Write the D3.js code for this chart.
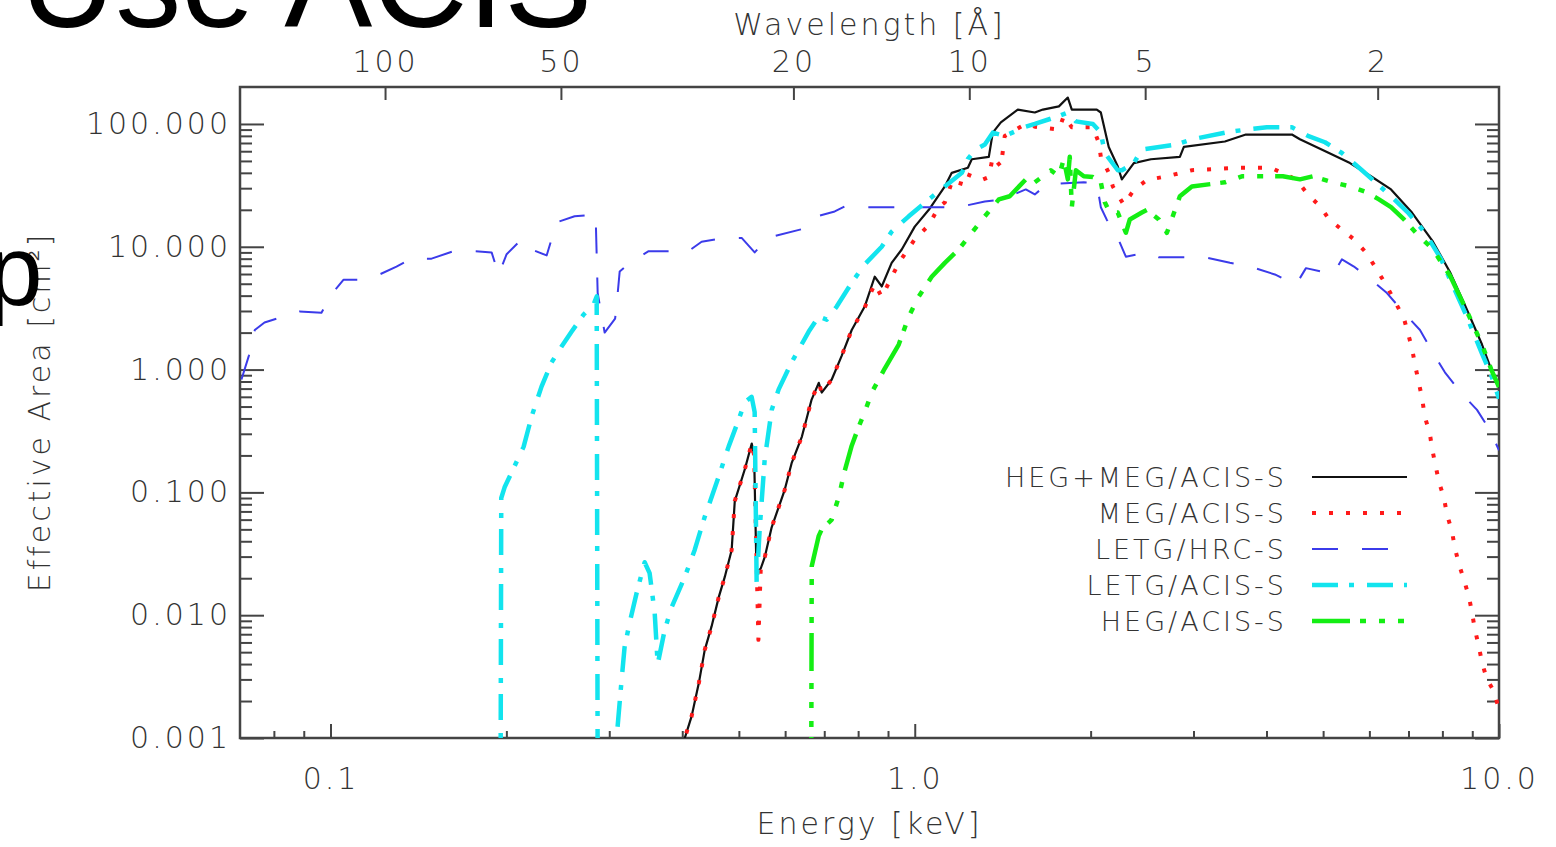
<!DOCTYPE html>
<html>
<head>
<meta charset="utf-8">
<script src="https://cdn.jsdelivr.net/npm/d3@7"></script>
<style>
  body { margin: 0; background: #fff; }
  svg text { font-family: "DejaVu Sans", sans-serif; }
</style>
</head>
<body>
<div id="chart"></div>
<script>
// ---- data: [energy keV, effective area cm^2] ----
var hegMegAcis = [
  [0.400,0.0008],[0.404,0.0010],[0.415,0.0015],[0.427,0.0028],[0.437,0.0052],[0.449,0.0081],
  [0.462,0.0141],[0.473,0.0205],[0.486,0.034],[0.492,0.085],[0.512,0.155],[0.526,0.25],
  [0.531,0.20],[0.536,0.022],[0.545,0.024],[0.554,0.03],[0.569,0.052],[0.585,0.076],
  [0.599,0.105],[0.616,0.175],[0.641,0.285],[0.666,0.57],[0.685,0.78],[0.693,0.65],
  [0.721,0.83],[0.750,1.3],[0.780,2.1],[0.821,3.26],[0.854,5.7],[0.878,4.75],[0.913,7.4],
  [0.950,9.5],[1.000,14.6],[1.057,20],[1.126,31],[1.157,40],[1.233,44],[1.252,51.6],
  [1.339,54],[1.360,85],[1.404,103],[1.501,131],[1.605,124],[1.657,131],[1.765,139],
  [1.828,164],[1.857,131],[2.049,131],[2.082,124],[2.148,65],[2.226,45],[2.262,35.4],
  [2.371,48],[2.536,51.6],[2.843,54],[2.888,65],[3.395,72],[3.688,82],[4.421,82],
  [4.563,75],[5.117,58],[5.558,48],[6.037,37.5],[6.534,29.3],[7.096,19],[7.709,11],
  [8.246,6.2],[8.779,3.2],[9.352,1.6],[9.70,1.0],[10.0,0.72]
];
var megAcis = [
  [0.400,0.0008],[0.404,0.0010],[0.415,0.0015],[0.427,0.0028],[0.437,0.0052],[0.449,0.0081],
  [0.462,0.0141],[0.473,0.0205],[0.486,0.034],[0.492,0.085],[0.512,0.155],[0.526,0.25],
  [0.531,0.20],[0.540,0.0063],[0.545,0.024],[0.554,0.03],[0.569,0.052],[0.585,0.076],
  [0.599,0.105],[0.616,0.175],[0.641,0.285],[0.666,0.57],[0.685,0.78],[0.693,0.65],
  [0.721,0.83],[0.750,1.3],[0.780,2.1],[0.821,3.2],[0.854,5.0],[0.878,3.9],[0.939,7.4],
  [1.000,11.5],[1.057,15],[1.099,21],[1.126,23],[1.157,33.5],[1.194,31],[1.213,40],
  [1.302,35],[1.339,37],[1.360,54],[1.404,45],[1.426,80],[1.549,100],[1.605,95],
  [1.765,90],[1.799,116],[1.857,94],[2.018,94],[2.066,70],[2.082,54],[2.148,40],
  [2.183,31],[2.279,22],[2.371,29],[2.497,35],[2.701,37.5],[2.981,42],[3.573,44],
  [4.07,44],[4.491,35.4],[4.709,26.7],[4.957,21],[5.117,16.7],[5.385,13.8],[5.646,11.5],
  [5.919,9],[6.182,6.5],[6.43,4.75],[6.877,2.6],[7.096,1.5],[7.181,1.1],[7.382,0.59],
  [7.469,0.41],[7.616,0.30],[7.678,0.23],[7.892,0.122],[8.050,0.09],[8.147,0.066],
  [8.309,0.048],[8.408,0.035],[8.541,0.026],[8.710,0.0194],[8.884,0.0141],[8.990,0.0105],
  [9.097,0.0076],[9.242,0.0055],[9.352,0.0041],[9.539,0.0030],[9.804,0.0024],[10.0,0.0017]
];
var letgHrc = [
  [0.0704,0.83],[0.0725,1.3],[0.0742,2.1],[0.0771,2.42],[0.0885,2.97],[0.0965,2.9],
  [0.1004,4.1],[0.1053,5.4],[0.1117,5.4],[0.1213,5.95],[0.1297,6.9],[0.1376,8.0],
  [0.1489,8.0],[0.1624,9.2],[0.1757,9.2],[0.1887,9.0],[0.1940,5.95],[0.2002,8.7],
  [0.2124,11.5],[0.2209,9.5],[0.2344,8.5],[0.2438,15.8],[0.2617,17.7],[0.2843,18.3],
  [0.2866,4.2],[0.2946,2.0],[0.3070,2.6],[0.3089,3.4],[0.3126,6.3],[0.3277,7.6],
  [0.3504,9.2],[0.3836,9.2],[0.4071,9.0],[0.4317,11.0],[0.4671,11.7],[0.5055,11.8],
  [0.5321,9.0],[0.5623,11.9],[0.6405,13.9],[0.6795,17.7],[0.7295,19.4],[0.7589,21.3],
  [0.8114,21],[1.189,21],[1.318,23.4],[1.409,24.3],[1.549,29.3],[1.605,26.7],[1.683,32.2],
  [1.947,33.5],[2.049,33],[2.082,21],[2.130,16.7],[2.244,10.8],[2.298,8.3],[2.497,9.0],
  [2.617,8.2],[3.138,8.2],[3.463,7.4],[3.746,6.9],[4.134,5.95],[4.491,4.9],[4.673,6.7],
  [4.957,6.3],[5.2,6.0],[5.385,7.9],[5.646,6.9],[6.037,5.4],[6.43,4.2],[6.877,2.9],
  [7.324,2.1],[7.709,1.37],[8.08,0.95],[8.576,0.66],[9.17,0.47],[9.651,0.32],[10.0,0.22]
];
var letgAcis = [
  [0.1955,0.0005],[0.1960,0.09],[0.1986,0.11],[0.2041,0.145],[0.2141,0.236],[0.2209,0.414],
  [0.2297,0.727],[0.2389,1.14],[0.2486,1.54],[0.2587,2.04],[0.2712,2.81],[0.2820,3.39],
  [0.2855,3.94],[0.2866,0.0005],[0.3050,0.0005],[0.3150,0.003],[0.3187,0.0055],
  [0.3251,0.0087],[0.3342,0.0152],[0.3449,0.027],[0.3517,0.022],[0.3588,0.0105],
  [0.3631,0.004],[0.3733,0.0076],[0.3836,0.0116],[0.4040,0.0205],[0.4201,0.034],
  [0.4369,0.063],[0.4617,0.134],[0.4802,0.236],[0.4995,0.39],[0.5116,0.54],[0.5258,0.6],
  [0.5321,0.45],[0.5363,0.018],[0.5427,0.05],[0.5535,0.185],[0.5691,0.47],[0.5849,0.69],
  [0.6158,1.15],[0.6585,2.04],[0.6847,2.7],[0.7069,2.55],[0.7352,3.26],[0.7800,5.1],
  [0.8212,7.2],[0.8779,10],[0.9133,13.3],[0.9766,17.7],[1.057,24.3],[1.126,31],[1.204,40],
  [1.233,52],[1.272,62],[1.318,68],[1.360,85],[1.426,80],[1.549,95],[1.605,100],[1.765,116],
  [1.828,124],[1.887,105],[2.018,100],[2.082,85],[2.115,58],[2.226,42],[2.262,42],[2.371,48],
  [2.447,62],[2.798,68],[2.981,75],[3.395,85],[3.688,90],[4.006,94],[4.421,94],[4.709,80],
  [5.036,71],[5.385,58],[5.827,42],[6.534,25.8],[6.987,19],[7.469,13],[7.955,8],[8.246,5.4],
  [8.779,2.8],[9.352,1.35],[9.70,0.9],[10.0,0.58]
];
var hegAcis = [
  [0.6650,0.0005],[0.6663,0.025],[0.6847,0.044],[0.6930,0.05],[0.7210,0.06],[0.7412,0.092],
  [0.7589,0.15],[0.7800,0.24],[0.8019,0.343],[0.8212,0.45],[0.8440,0.65],[0.8884,1.02],
  [0.9389,1.6],[0.9766,2.7],[1.016,3.94],[1.069,5.7],[1.126,7.4],[1.189,9.5],[1.252,13],
  [1.318,17.7],[1.393,24.3],[1.454,25.8],[1.549,35.4],[1.605,33.5],[1.710,42],[1.765,37.5],
  [1.799,51.6],[1.828,35.4],[1.842,54],[1.857,21],[1.887,42],[1.947,37.5],[2.018,37],
  [2.082,33.5],[2.115,23],[2.158,19],[2.226,19],[2.298,13],[2.334,16.7],[2.447,19],
  [2.497,20],[2.617,16.7],[2.701,13],[2.843,25.8],[2.981,31],[3.395,33.5],[3.630,37.5],
  [4.006,37.5],[4.266,37.5],[4.563,35.4],[4.803,37.5],[5.196,33.5],[5.558,31],[5.943,27.7],
  [6.230,24.3],[6.534,21],[6.877,16.7],[7.210,13],[7.709,9.5],[8.246,5.8],[8.779,3.1],
  [9.352,1.6],[9.70,1.0],[10.0,0.72]
];

var legendLabels = ["HEG+MEG/ACIS-S", "MEG/ACIS-S", "LETG/HRC-S", "LETG/ACIS-S", "HEG/ACIS-S"];
var energyTicks = [0.1, 1, 10];
var energyLabels = ["0.1", "1.0", "10.0"];
var waveTicks = [100, 50, 20, 10, 5, 2];
var waveLabels = ["100", "50", "20", "10", "5", "2"];
var areaTicks = [0.001, 0.01, 0.1, 1, 10, 100];
var areaLabels = ["0.001", "0.010", "0.100", "1.000", "10.000", "100.000"];

var HC = 12.398; // keV * Angstrom

var W = 1556, H = 847;
var margin = {left: 240, right: 57, top: 87, bottom: 109};
var iw = W - margin.left - margin.right;
var ih = H - margin.top - margin.bottom;

var svg = d3.select("#chart").append("svg")
    .attr("width", W).attr("height", H);

var x = d3.scaleLog().domain([0.07, 10]).range([0, iw]);
var y = d3.scaleLog().domain([0.001, 200]).range([ih, 0]);

var g = svg.append("g").attr("transform", "translate(" + margin.left + "," + margin.top + ")");

g.append("clipPath").attr("id", "plotclip")
  .append("rect").attr("width", iw).attr("height", ih);

// minor tick values
var xMinor = [], yMinor = [];
[0.01, 0.1, 1].forEach(function(dec) {
  for (var k = 2; k <= 9; k++) {
    var v = k * dec;
    if (v > 0.07 && v < 10) xMinor.push(v);
  }
});
[0.001, 0.01, 0.1, 1, 10, 100].forEach(function(dec) {
  for (var k = 2; k <= 9; k++) {
    var v = k * dec;
    if (v < 200) yMinor.push(v);
  }
});

var txtColor = "#333";

function styleAxis(sel) {
  sel.select(".domain").remove();
  sel.selectAll("line").attr("stroke", "#444").attr("stroke-width", 2);
  sel.selectAll("text")
    .attr("fill", txtColor)
    .style("font-size", "30px")
    .style("font-weight", 200)
    .style("letter-spacing", "3px");
}

// bottom axis
g.append("g").attr("transform", "translate(0," + ih + ")")
  .call(d3.axisBottom(x).tickValues(energyTicks).tickSize(-14).tickPadding(30)
        .tickFormat(function(d, i) { return energyLabels[i]; }))
  .call(styleAxis);
g.append("g").attr("transform", "translate(0," + ih + ")")
  .call(d3.axisBottom(x).tickValues(xMinor).tickSize(-7).tickFormat(""))
  .call(styleAxis);

// top axis: wavelength
g.append("g")
  .call(d3.axisTop(x).tickValues(waveTicks.map(function(l) { return HC / l; }))
        .tickSize(-13).tickPadding(15)
        .tickFormat(function(d, i) { return waveLabels[i]; }))
  .call(styleAxis);

// left axis
g.append("g")
  .call(d3.axisLeft(y).tickValues(areaTicks).tickSize(-24).tickPadding(9)
        .tickFormat(function(d, i) { return areaLabels[i]; }))
  .call(styleAxis);
g.append("g")
  .call(d3.axisLeft(y).tickValues(yMinor).tickSize(-12).tickFormat(""))
  .call(styleAxis);

// right axis
g.append("g").attr("transform", "translate(" + iw + ",0)")
  .call(d3.axisRight(y).tickValues(areaTicks).tickSize(-24).tickFormat(""))
  .call(styleAxis);
g.append("g").attr("transform", "translate(" + iw + ",0)")
  .call(d3.axisRight(y).tickValues(yMinor).tickSize(-12).tickFormat(""))
  .call(styleAxis);

// frame
g.append("rect").attr("width", iw).attr("height", ih)
  .attr("fill", "none").attr("stroke", "#444").attr("stroke-width", 2.5);

// series
var series = [
  {label: legendLabels[0], data: hegMegAcis, color: "#111111", width: 2.2, dash: null},
  {label: legendLabels[1], data: megAcis,    color: "#ff1a1a", width: 4,   dash: "4 13"},
  {label: legendLabels[2], data: letgHrc,    color: "#3b3bea", width: 2,   dash: "26 24"},
  {label: legendLabels[3], data: letgAcis,   color: "#12e4ee", width: 4.5, dash: "26 11 5 13"},
  {label: legendLabels[4], data: hegAcis,    color: "#14ee14", width: 4.5, dash: "38 10 6 13 6 13 6 12"}
];

var line = d3.line()
  .x(function(d) { return x(d[0]); })
  .y(function(d) { return y(d[1]); });

var curves = g.append("g").attr("clip-path", "url(#plotclip)");
series.forEach(function(s) {
  curves.append("path")
    .datum(s.data)
    .attr("d", line)
    .attr("fill", "none")
    .attr("stroke", s.color)
    .attr("stroke-width", s.width)
    .attr("stroke-dasharray", s.dash)
    .attr("stroke-linejoin", "round");
});

// legend
var leg = svg.append("g").attr("transform", "translate(1287,477)");
series.forEach(function(s, i) {
  var row = leg.append("g").attr("transform", "translate(0," + (i * 36) + ")");
  row.append("text")
    .attr("x", 0).attr("y", 10)
    .attr("text-anchor", "end")
    .attr("fill", txtColor)
    .style("font-size", "27px")
    .style("font-weight", 200)
    .style("letter-spacing", "3px")
    .text(s.label);
  row.append("line")
    .attr("x1", 25).attr("x2", 120).attr("y1", 0).attr("y2", 0)
    .attr("stroke", s.color)
    .attr("stroke-width", s.width)
    .attr("stroke-dasharray", s.dash);
});

// axis titles
function title(sel) {
  sel.attr("fill", txtColor)
    .style("font-size", "30px")
    .style("font-weight", 200)
    .style("letter-spacing", "3px")
    .attr("text-anchor", "middle");
}
svg.append("text").attr("x", margin.left + iw / 2).attr("y", 834)
  .call(title).text("Energy [keV]");
svg.append("text").attr("x", margin.left + iw / 2).attr("y", 35)
  .call(title).text("Wavelength [Å]");
svg.append("text").attr("transform", "translate(50,412) rotate(-90)")
  .call(title).text("Effective Area [cm²]");

// slide text overlapping the figure
svg.append("text").attr("x", 20).attr("y", 27)
  .style("font-family", "'Liberation Sans', Arial, sans-serif")
  .style("font-size", "132px")
  .attr("fill", "#000")
  .text("Use ACIS");
svg.append("text").attr("x", -13).attr("y", 305)
  .style("font-family", "'Liberation Sans', Arial, sans-serif")
  .style("font-size", "100px")
  .attr("fill", "#000")
  .text("p");
</script>
</body>
</html>
